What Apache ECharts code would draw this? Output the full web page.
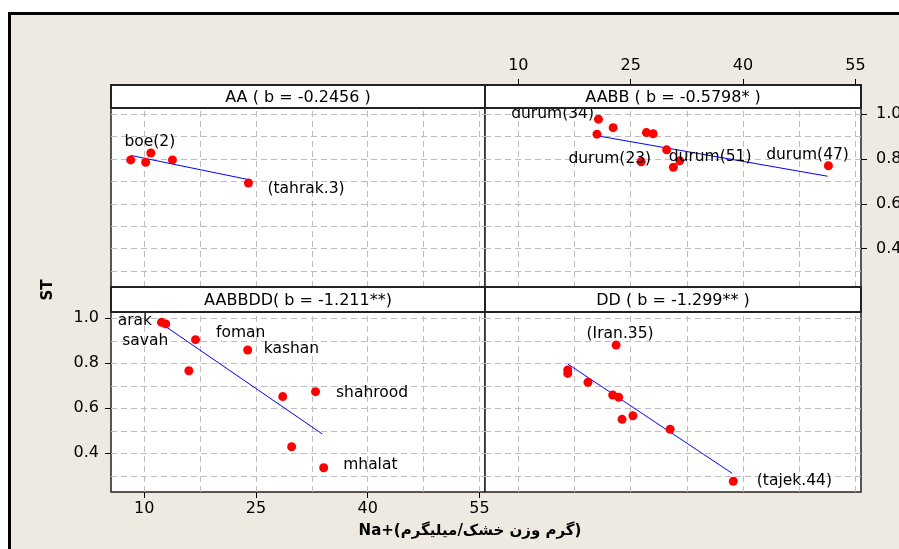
<!DOCTYPE html>
<html><head><meta charset="utf-8">
<script src="https://cdn.jsdelivr.net/npm/echarts@6/dist/echarts.min.js"></script>
<style>html,body{margin:0;padding:0;background:#fff}#c{width:899px;height:549px}</style>
</head><body><div id="c"></div>
<script>
// ---- data ----
const xTicks = [10, 25, 40, 55];
const yTicks = [0.4, 0.6, 0.8, 1.0];
const xGridLines = [10, 17.5, 25, 32.5, 40, 47.5, 55];
const yGridLines = [0.3, 0.4, 0.5, 0.6, 0.7, 0.8, 0.9, 1.0];
const panelTitles = ['AA ( b = -0.2456 )', 'AABB ( b = -0.5798* )', 'AABBDD( b = -1.211**)', 'DD ( b = -1.299** )'];
const yTitle = 'ST';
const xTitle = 'Na+(گرم وزن خشک/میلیگرم)';

const aaX = [8.2, 10.2, 10.9, 13.8, 24.0];
const aaY = [0.796, 0.785, 0.827, 0.796, 0.693];
const aaNames = ['', '', 'boe(2)', '', '(tahrak.3)'];
const aaFitX = [8.2, 24.0];
const aaFitY = [0.816, 0.708];

const aabbX = [20.7, 22.66, 20.5, 27.1, 28.0, 29.8, 26.4, 30.7, 31.55, 51.4];
const aabbY = [0.978, 0.94, 0.911, 0.918, 0.913, 0.841, 0.788, 0.763, 0.792, 0.770];
const aabbNames = ['durum(34)', '', '', '', '', '', 'durum(23)', '', 'durum(51)', 'durum(47)'];
const aabbFitX = [20.5, 51.3];
const aabbFitY = [0.904, 0.723];

const aabbddX = [12.33, 12.9, 16.9, 16.0, 23.9, 28.6, 33.0, 29.8, 34.1];
const aabbddY = [0.982, 0.975, 0.905, 0.767, 0.859, 0.652, 0.674, 0.429, 0.336];
const aabbddNames = ['arak', 'savah', 'foman', '', 'kashan', '', 'shahrood', '', 'mhalat'];
const aabbddFitX = [12.9, 33.9];
const aabbddFitY = [0.963, 0.486];

const ddX = [23.05, 16.6, 16.6, 19.3, 22.6, 23.4, 23.85, 25.3, 30.27, 38.7];
const ddY = [0.881, 0.770, 0.755, 0.716, 0.659, 0.649, 0.551, 0.567, 0.507, 0.276];
const ddNames = ['(Iran.35)', '', '', '', '', '', '', '', '', '(tajek.44)'];
const ddFitX = [16.64, 38.55];
const ddFitY = [0.796, 0.311];

// ---- layout / style ----
const FONT = 'DejaVu Sans';
const XMIN = 5.55, XMAX = 55.75, YMIN = 0.228, YMAX = 1.028;
const cols = [{left: 111, width: 374}, {left: 485, width: 376}];
const rows = [{top: 108, height: 179, stripTop: 85}, {top: 312, height: 180, stripTop: 287}];
const labelPlace = {
  'boe(2)': ['top', [-1, 6]],
  '(tahrak.3)': ['right', [9.5, 6]],
  'durum(34)': ['left', [5, -5]],
  'durum(23)': ['left', [19.5, -3]],
  'durum(51)': ['right', [-20.5, -4]],
  'durum(47)': ['left', [30, -11]],
  'arak': ['left', [0, -1]],
  'savah': ['left', [12, 17]],
  'foman': ['right', [11, -7]],
  'kashan': ['right', [6.5, -1]],
  'shahrood': ['right', [11, 1]],
  'mhalat': ['right', [10, -3]],
  '(Iran.35)': ['top', [4, 6]],
  '(tajek.44)': ['right', [14, 0]]
};

const panels = [
  {x: aaX, y: aaY, n: aaNames, fx: aaFitX, fy: aaFitY},
  {x: aabbX, y: aabbY, n: aabbNames, fx: aabbFitX, fy: aabbFitY},
  {x: aabbddX, y: aabbddY, n: aabbddNames, fx: aabbddFitX, fy: aabbddFitY},
  {x: ddX, y: ddY, n: ddNames, fx: ddFitX, fy: ddFitY}
];

const grids = [], xAxes = [], yAxes = [], series = [], graphics = [];

graphics.push({type: 'rect', z: -10, shape: {x: 9.5, y: 13.5, width: 1000, height: 1000},
  style: {fill: '#EEEAE1', stroke: '#000', lineWidth: 3}});

panels.forEach((p, i) => {
  const c = cols[i % 2], r = rows[Math.floor(i / 2)];
  grids.push({left: c.left, top: r.top, width: c.width, height: r.height, show: true,
    backgroundColor: '#fff', borderColor: '#222', borderWidth: 1.5, outerBoundsMode: 'none', containLabel: false});
  const showX = (i === 1 || i === 2), showY = (i === 1 || i === 2);
  xAxes.push({gridIndex: i, type: 'value', min: XMIN, max: XMAX,
    position: i === 1 ? 'top' : 'bottom', offset: i === 1 ? (r.top - r.stripTop) : 0,
    axisLine: {show: false}, splitLine: {show: false},
    axisTick: {show: showX, customValues: xTicks, length: 6, lineStyle: {color: '#000', width: 1}},
    axisLabel: {show: showX, customValues: xTicks, margin: i === 1 ? 11 : 9,
      fontFamily: FONT, fontSize: 16, color: '#000'}});
  yAxes.push({gridIndex: i, type: 'value', min: YMIN, max: YMAX,
    position: i === 1 ? 'right' : 'left',
    axisLine: {show: false}, splitLine: {show: false},
    axisTick: {show: showY, customValues: yTicks, length: 6, lineStyle: {color: '#000', width: 1}},
    axisLabel: {show: showY, customValues: yTicks, margin: i === 1 ? 15 : 12,
      fontFamily: FONT, fontSize: 16, color: '#000', formatter: v => v.toFixed(1)}});

  series.push({type: 'line', xAxisIndex: i, yAxisIndex: i, z: 2,
    data: p.fx.map((v, k) => [v, p.fy[k]]), symbol: 'none', showSymbol: false,
    lineStyle: {color: '#0000ff', width: 1}, animation: false, silent: true,
    markLine: {z: 1, silent: true, symbol: ['none', 'none'], animation: false, label: {show: false},
      lineStyle: {type: [6, 4], color: '#bdbdbd', width: 1},
      emphasis: {disabled: true},
      data: xGridLines.map(v => ({xAxis: v})).concat(yGridLines.map(v => ({yAxis: v})))}});

  series.push({type: 'scatter', xAxisIndex: i, yAxisIndex: i, z: 3, symbolSize: 9, animation: false,
    itemStyle: {color: '#ff0000', opacity: 1},
    data: p.x.map((v, k) => {
      const name = p.n[k];
      const pl = labelPlace[name];
      return {value: [v, p.y[k]], name: name,
        label: pl ? {show: true, position: pl[0], offset: pl[1], distance: 5, formatter: '{b}',
          fontFamily: FONT, fontSize: 15.5, color: '#000', opacity: 1} : {show: false}};
    })});

  // strip
  graphics.push({type: 'rect', z: 10, shape: {x: c.left, y: r.stripTop, width: c.width, height: r.top - r.stripTop},
    style: {fill: '#fff', stroke: '#222', lineWidth: 2}});
  graphics.push({type: 'text', z: 11, x: c.left + c.width / 2, y: (r.stripTop + r.top) / 2 + 1,
    style: {text: panelTitles[i], font: '16px "DejaVu Sans"', fill: '#000', textAlign: 'center', textVerticalAlign: 'middle'}});
});

graphics.push({type: 'text', z: 11, x: 48, y: 290, rotation: Math.PI / 2,
  style: {text: yTitle, font: 'bold 15px "DejaVu Sans"', fill: '#000', textAlign: 'center', textVerticalAlign: 'middle'}});
graphics.push({type: 'text', z: 11, x: 470, y: 531,
  style: {text: xTitle, font: 'bold 15px "DejaVu Sans"', fill: '#000', textAlign: 'center', textVerticalAlign: 'middle'}});

const chart = echarts.init(document.getElementById('c'), null, {renderer: 'canvas'});
chart.setOption({
  backgroundColor: '#fff',
  animation: false,
  grid: grids, xAxis: xAxes, yAxis: yAxes, series: series,
  graphic: graphics
});
</script></body></html>
